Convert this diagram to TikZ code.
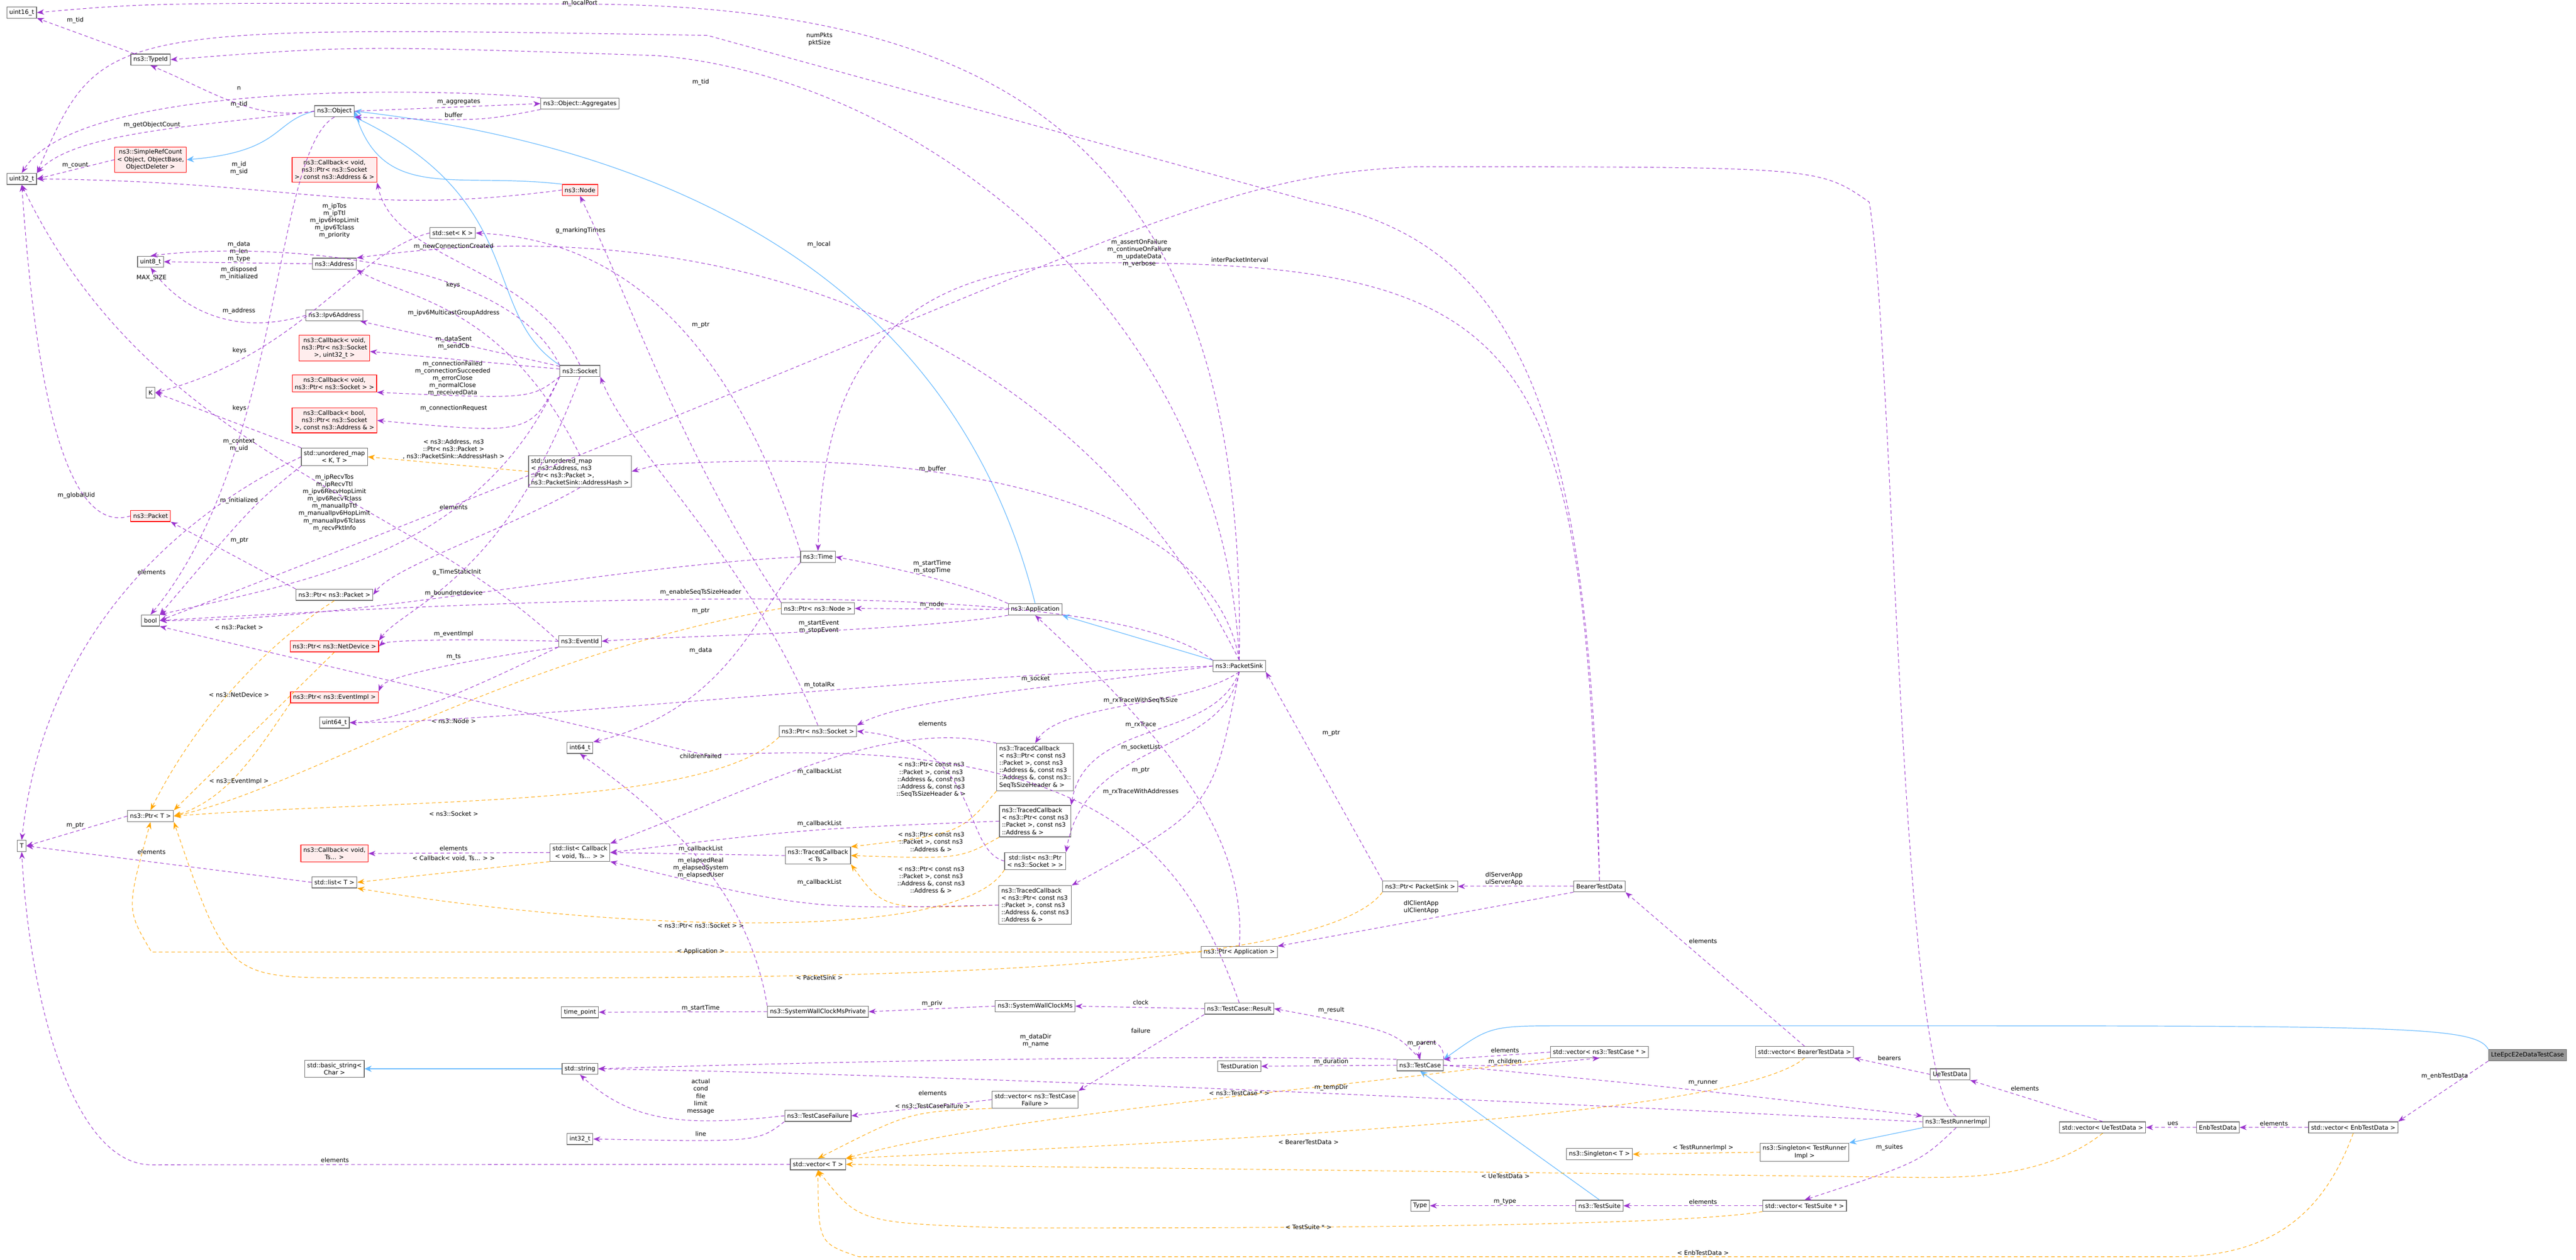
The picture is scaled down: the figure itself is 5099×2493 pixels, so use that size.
\documentclass[tikz,border=0pt]{standalone}
\usepackage{fontspec}
\setmainfont{DejaVu Sans}
\usetikzlibrary{arrows.meta}
\definecolor{pu}{HTML}{9A32CD}
\definecolor{og}{HTML}{FFA500}
\definecolor{bl}{HTML}{63B8FF}
\newcommand{\ft}{\fontsize{3.4}{4.1}\selectfont}
\tikzset{
 box/.style={draw=black!60,line width=0.35pt,fill=white,font=\ft,align=center,inner sep=1.4pt,minimum height=0.22cm},
 rbox/.style={box,draw=red,fill=red!7},
 pe/.style={draw=pu,line width=0.3pt,dash pattern=on 2pt off 1.5pt,-{Stealth[length=4pt,width=3pt]}},
 oe/.style={draw=og,line width=0.3pt,dash pattern=on 2pt off 1.5pt,-{Stealth[length=4pt,width=3pt]}},
 be/.style={draw=bl,line width=0.35pt,-{Stealth[length=4pt,width=3.5pt,fill=bl]}},
 lab/.style={font=\ft,align=center,inner sep=0pt}
}
\begin{document}
\begin{tikzpicture}[x=0.01cm,y=-0.01cm]
\useasboundingbox (0,0) rectangle (5099,2493);
% nodes
\node[box] (u16) at (43,25) {uint16\_t};
\node[box] (tid) at (298,118) {ns3::TypeId};
\node[box] (obj) at (662,220) {ns3::Object};
\node[box] (agg) at (1148,205) {ns3::Object::Aggregates};
\node[box] (u32) at (43,354) {uint32\_t};
\node[rbox] (src) at (298,316) {ns3::SimpleRefCount\\< Object, ObjectBase,\\ ObjectDeleter >};
\node[rbox] (cb1) at (662,336) {ns3::Callback< void,\\ ns3::Ptr< ns3::Socket\\ >, const ns3::Address \& >};
\node[rbox] (node) at (1148,376) {ns3::Node};
\node[box] (setk) at (896,461) {std::set< K >};
\node[box] (u8) at (298,518) {uint8\_t};
\node[box] (addr) at (662,522) {ns3::Address};
\node[box] (ip6) at (662,624) {ns3::Ipv6Address};
\node[rbox] (cb2) at (662,689) {ns3::Callback< void,\\ ns3::Ptr< ns3::Socket\\ >, uint32\_t >};
\node[box] (sock) at (1148,734) {ns3::Socket};
\node[box] (K) at (298,777) {K};
\node[rbox] (cb3) at (662,759) {ns3::Callback< void,\\ ns3::Ptr< ns3::Socket > >};
\node[rbox] (cb4) at (662,832) {ns3::Callback< bool,\\ ns3::Ptr< ns3::Socket\\ >, const ns3::Address \& >};
\node[box] (umkt) at (662,904) {std::unordered\_map\\< K, T >};
\node[box,align=left] (uma) at (1148,933) {std::unordered\_map\\< ns3::Address, ns3\\::Ptr< ns3::Packet >,\\ ns3::PacketSink::AddressHash >};
\node[rbox] (pkt) at (298,1021) {ns3::Packet};
\node[box] (ppkt) at (662,1177) {ns3::Ptr< ns3::Packet >};
\node[box] (bool) at (298,1228) {bool};
\node[rbox] (pnd) at (662,1279) {ns3::Ptr< ns3::NetDevice >};
\node[box] (eid) at (1148,1269) {ns3::EventId};
\node[rbox] (pei) at (662,1380) {ns3::Ptr< ns3::EventImpl >};
\node[box] (u64) at (662,1430) {uint64\_t};
\node[box] (i64) at (1148,1480) {int64\_t};
\node[box] (ptrT) at (298,1615) {ns3::Ptr< T >};
\node[box] (T) at (43,1674) {T};
\node[rbox] (cbts) at (662,1689) {ns3::Callback< void,\\ Ts... >};
\node[box] (lcb) at (1148,1687) {std::list< Callback\\< void, Ts... > >};
\node[box] (listT) at (662,1746) {std::list< T >};
\node[box] (tp) at (1148,2003) {time\_point};
\node[box] (bstr) at (662,2115) {std::basic\_string<\\ Char >};
\node[box] (str) at (1148,2115) {std::string};
\node[box] (i32) at (1148,2254) {int32\_t};
\node[box] (time) at (1619,1102) {ns3::Time};
\node[box] (pnode) at (1619,1204) {ns3::Ptr< ns3::Node >};
\node[box] (app) at (2049,1206) {ns3::Application};
\node[box] (ps) at (2453,1318) {ns3::PacketSink};
\node[box] (psock) at (1619,1447) {ns3::Ptr< ns3::Socket >};
\node[box,align=left] (tc1) at (2049,1518) {ns3::TracedCallback\\< ns3::Ptr< const ns3\\::Packet >, const ns3\\::Address \&, const ns3\\::Address \&, const ns3::\\SeqTsSizeHeader \& >};
\node[box,align=left] (tc2) at (2049,1625) {ns3::TracedCallback\\< ns3::Ptr< const ns3\\::Packet >, const ns3\\::Address \& >};
\node[box] (tcts) at (1619,1693) {ns3::TracedCallback\\< Ts >};
\node[box] (lps) at (2049,1704) {std::list< ns3::Ptr\\< ns3::Socket > >};
\node[box,align=left] (tc3) at (2049,1791) {ns3::TracedCallback\\< ns3::Ptr< const ns3\\::Packet >, const ns3\\::Address \&, const ns3\\::Address \& >};
\node[box] (papp) at (2453,1884) {ns3::Ptr< Application >};
\node[box] (swp) at (1619,2002) {ns3::SystemWallClockMsPrivate};
\node[box] (sw) at (2049,1991) {ns3::SystemWallClockMs};
\node[box] (res) at (2453,1996) {ns3::TestCase::Result};
\node[box] (tdur) at (2453,2110) {TestDuration};
\node[box] (vtcf) at (2049,2176) {std::vector< ns3::TestCase\\Failure >};
\node[box] (tcf) at (1619,2208) {ns3::TestCaseFailure};
\node[box] (vecT) at (1619,2304) {std::vector< T >};
\node[box] (ppsk) at (2811,1754) {ns3::Ptr< PacketSink >};
\node[box] (btd) at (3166,1754) {BearerTestData};
\node[box] (tcase) at (2811,2108) {ns3::TestCase};
\node[box] (vtc) at (3166,2082) {std::vector< ns3::TestCase * >};
\node[box] (vbtd) at (3572,2082) {std::vector< BearerTestData >};
\node[box] (ue) at (3860,2126) {UeTestData};
\node[box] (tri) at (3872,2220) {ns3::TestRunnerImpl};
\node[box] (stri) at (3572,2280) {ns3::Singleton< TestRunner\\Impl >};
\node[box] (sT) at (3166,2284) {ns3::Singleton< T >};
\node[box] (type) at (2811,2386) {Type};
\node[box] (ts) at (3166,2386) {ns3::TestSuite};
\node[box] (vts) at (3572,2386) {std::vector< TestSuite * >};
\node[box] (vue) at (4162,2231) {std::vector< UeTestData >};
\node[box] (enb) at (4390,2231) {EnbTestData};
\node[box] (venb) at (4658,2231) {std::vector< EnbTestData >};
\node[box,fill=black!40] (lte) at (5003,2088) {LteEpcE2eDataTestCase};
% inheritance
\draw[be] (obj.west) .. controls (540,240) and (560,300) .. (src.east);
\draw[be] (node.north west) .. controls (900,340) and (760,400) .. (obj.east);
\draw[be] (sock.north west) .. controls (950,620) and (1050,400) .. (obj.south east);
\draw[be] (app.north) .. controls (1900,600) and (1400,300) .. (obj.east);
\draw[be] (ps.north west) -- (app.south east);
\draw[be] (str) -- (bstr);
\draw[be] (tri.south west) -- (stri.north east);
\draw[be] (ts.north) -- (tcase.south);
\draw[be] (lte.north west) .. controls (4900,2030) and (4750,2030) .. (3700,2030) -- (3100,2030) .. controls (2950,2030) .. (tcase.north east);
% top area
\draw[pe] (tid) -- (u16); \node[lab] at (149,40) {m\_tid};
\draw[pe] (obj.west) .. controls (500,240) and (420,180) .. (tid.south); \node[lab] at (473,206) {m\_tid};
\draw[pe] (obj.east) -- (agg.west); \node[lab] at (908,202) {m\_aggregates};
\draw[pe] (agg.south west) .. controls (950,240) .. (obj.south east); \node[lab] at (898,228) {buffer};
\draw[pe] (agg.north west) .. controls (800,170) and (150,170) .. (u32.north); \node[lab] at (473,175) {n};
\draw[pe] (obj.west) .. controls (400,250) and (150,260) .. (u32.north east); \node[lab] at (301,247) {m\_getObjectCount};
\draw[pe] (src.west) -- (u32.east); \node[lab] at (149,327) {m\_count};
\draw[pe] (node.west) .. controls (700,430) and (600,360) .. (u32.east); \node[lab] at (473,333) {m\_id\\m\_sid};
\draw[pe] (addr.west) -- (u8.east); \node[lab] at (473,498) {m\_data\\m\_len\\m\_type};
\draw[pe] (sock.north west) .. controls (1000,500) and (500,480) .. (u8.north); \node[lab] at (662,437) {m\_ipTos\\m\_ipTtl\\m\_ipv6HopLimit\\m\_ipv6Tclass\\m\_priority};
\draw[pe] (ip6.west) .. controls (450,670) and (350,600) .. (u8.south); \node[lab] at (473,615) {m\_address}; \node[lab] at (300,550) {MAX\_SIZE};
\draw[pe] (obj.south) .. controls (540,300) and (560,900) .. (bool.north); \node[lab] at (473,541) {m\_disposed\\m\_initialized};
\draw[pe] (ps.north) .. controls (2150,700) and (1500,400) .. (addr.north east); \node[lab] at (1621,484) {m\_local};
\draw[pe] (uma.north) .. controls (1000,600) and (800,590) .. (addr.south east); \node[lab] at (897,564) {keys};
\draw[pe] (sock) -- (ip6); \node[lab] at (898,619) {m\_ipv6MulticastGroupAddress};
\draw[pe] (sock) -- (cb2); \node[lab] at (898,679) {m\_dataSent\\m\_sendCb};
\draw[pe] (sock.south west) .. controls (1050,790) .. (cb3.south east); \node[lab] at (896,749) {m\_connectionFailed\\m\_connectionSucceeded\\m\_errorClose\\m\_normalClose\\m\_receivedData};
\draw[pe] (sock.south west) .. controls (1050,860) .. (cb4.east); \node[lab] at (898,808) {m\_connectionRequest};
\draw[pe] (sock.north) .. controls (1050,520) and (780,520) .. (cb1.south east); \node[lab] at (898,488) {m\_newConnectionCreated};
\draw[pe] (time.north west) .. controls (1400,520) and (1100,470) .. (setk.east); \node[lab] at (1149,456) {g\_markingTimes};
\draw[pe] (setk.west) .. controls (700,500) and (600,700) .. (K.east); \node[lab] at (474,694) {keys};
\draw[pe] (umkt.north west) -- (K.east); \node[lab] at (474,808) {keys};
\draw[oe] (uma.west) -- (umkt.east); \node[lab] at (898,889) {< ns3::Address, ns3\\::Ptr< ns3::Packet >\\, ns3::PacketSink::AddressHash >};
\draw[pe] (uma.south) .. controls (1000,1050) and (780,1120) .. (ppkt.east); \node[lab] at (898,1004) {elements};
\draw[pe] (umkt.west) .. controls (500,950) and (100,1150) .. (T.north); \node[lab] at (300,1132) {elements};
\draw[pe] (pkt.west) .. controls (100,1070) and (60,600) .. (u32.south); \node[lab] at (151,980) {m\_globalUid};
\draw[pe] (ppkt.north west) -- (pkt.south east); \node[lab] at (474,1070) {m\_ptr};
\draw[pe] (eid.west) .. controls (800,980) and (300,900) .. (u32.south); \node[lab] at (473,881) {m\_context\\m\_uid};
\draw[pe] (sock.south west) .. controls (950,1100) and (600,1150) .. (bool.north east); \node[lab] at (662,995) {m\_ipRecvTos\\m\_ipRecvTtl\\m\_ipv6RecvHopLimit\\m\_ipv6RecvTclass\\m\_manualIpTtl\\m\_manualIpv6HopLimit\\m\_manualIpv6Tclass\\m\_recvPktInfo};
\draw[pe] (umkt.south west) .. controls (500,1000) .. (bool.north east); \node[lab] at (473,991) {m\_initialized};
\draw[pe] (time.west) .. controls (1200,1120) and (700,1230) .. (bool.east); \node[lab] at (904,1132) {g\_TimeStaticInit};
\draw[pe] (sock.south) .. controls (1000,1150) and (800,1200) .. (pnd.north east); \node[lab] at (898,1174) {m\_boundnetdevice};
\draw[oe] (ppkt.south) .. controls (550,1260) and (400,1400) .. (ptrT.north); \node[lab] at (473,1241) {< ns3::Packet >};
% middle left
\draw[oe] (pnd.south) -- (ptrT.north east); \node[lab] at (473,1375) {< ns3::NetDevice >};
\draw[pe] (eid.west) .. controls (850,1262) and (760,1270) .. (pnd.east); \node[lab] at (898,1255) {m\_eventImpl};
\draw[pe] (eid.south west) .. controls (900,1310) and (760,1340) .. (pei.north east); \node[lab] at (898,1300) {m\_ts};
\draw[pe] (eid.south west) .. controls (1000,1330) and (800,1430) .. (u64.east);
\draw[oe] (pei.south west) .. controls (500,1500) and (450,1580) .. (ptrT.east); \node[lab] at (473,1546) {< ns3::EventImpl >};
\draw[oe] (pnode.west) .. controls (1000,1300) and (600,1560) .. (ptrT.east); \node[lab] at (898,1427) {< ns3::Node >};
\draw[pe] (pnode.north west) .. controls (1350,900) and (1250,600) .. (node.south); \node[lab] at (1387,643) {m\_ptr};
\draw[oe] (psock.south west) .. controls (1400,1600) and (800,1580) .. (ptrT.east); \node[lab] at (898,1610) {< ns3::Socket >};
\draw[pe] (psock.north) .. controls (1480,1100) and (1250,900) .. (sock.south east); \node[lab] at (1387,1209) {m\_ptr};
\draw[pe] (ptrT.west) -- (T.east); \node[lab] at (149,1633) {m\_ptr};
\draw[pe] (listT.west) -- (T.east); \node[lab] at (300,1686) {elements};
\draw[pe] (vecT.west) -- (300,2305) .. controls (150,2305) and (60,2000) .. (T.south); \node[lab] at (663,2296) {elements};
\draw[pe] (lcb.west) -- (cbts.east); \node[lab] at (898,1679) {elements};
\draw[oe] (lcb.south west) -- (listT.east); \node[lab] at (898,1699) {< Callback< void, Ts... > >};
\draw[oe] (lps.south west) .. controls (1900,1870) and (1200,1840) .. (listT.south east); \node[lab] at (1387,1832) {< ns3::Ptr< ns3::Socket > >};
\draw[pe] (lps.west) .. controls (1900,1680) and (1950,1470) .. (psock.east); \node[lab] at (1846,1432) {elements};
% traced callbacks
\draw[oe] (tc1.south west) .. controls (1900,1650) .. (tcts.north east); \node[lab] at (1843,1543) {< ns3::Ptr< const ns3\\::Packet >, const ns3\\::Address \&, const ns3\\::Address \&, const ns3\\::SeqTsSizeHeader \& >};
\draw[oe] (tc2.south west) .. controls (1900,1700) .. (tcts.east); \node[lab] at (1843,1666) {< ns3::Ptr< const ns3\\::Packet >, const ns3\\::Address \& >};
\draw[oe] (tc3.west) .. controls (1750,1800) .. (tcts.south east); \node[lab] at (1843,1741) {< ns3::Ptr< const ns3\\::Packet >, const ns3\\::Address \&, const ns3\\::Address \& >};
\draw[pe] (tcts.west) -- (lcb.east); \node[lab] at (1387,1680) {m\_callbackList};
\draw[pe] (tc1.north west) .. controls (1750,1420) and (1500,1560) .. (lcb.north east); \node[lab] at (1622,1527) {m\_callbackList};
\draw[pe] (tc2.west) .. controls (1600,1640) .. (lcb.east); \node[lab] at (1622,1630) {m\_callbackList};
\draw[pe] (tc3.west) .. controls (1600,1800) .. (lcb.south east); \node[lab] at (1622,1746) {m\_callbackList};
% packet sink
\draw[pe] (ps.west) .. controls (2100,1360) and (1800,1380) .. (psock.north east); \node[lab] at (2050,1344) {m\_socket};
\draw[pe] (ps.south) .. controls (2350,1400) and (2100,1390) .. (tc1.north); \node[lab] at (2258,1386) {m\_rxTraceWithSeqTsSize};
\draw[pe] (ps.south) .. controls (2400,1470) and (2150,1420) .. (tc2.north east); \node[lab] at (2258,1434) {m\_rxTrace};
\draw[pe] (ps.south) .. controls (2420,1500) and (2150,1460) .. (lps.north east); \node[lab] at (2258,1479) {m\_socketList};
\draw[pe] (ps.south) .. controls (2400,1600) .. (tc3.north east); \node[lab] at (2258,1567) {m\_rxTraceWithAddresses};
\draw[pe] (ps.west) .. controls (1800,1340) and (1000,1430) .. (u64.east); \node[lab] at (1622,1356) {m\_totalRx};
\draw[pe] (ps.north) .. controls (2400,1000) and (1900,880) .. (1300,920) -- (uma.east); \node[lab] at (1846,928) {m\_buffer};
\draw[pe] (ps.north west) .. controls (2200,1150) and (1300,1170) .. (bool.east); \node[lab] at (1387,1172) {m\_enableSeqTsSizeHeader};
\draw[pe] (ps.north) .. controls (2470,300) and (2000,10) .. (1148,8) .. controls (300,5) .. (u16.east); \node[lab] at (1148,0) [anchor=north] {m\_localPort};
\draw[pe] (ps.north) .. controls (2420,600) and (1800,150) .. (1300,110) .. controls (700,90) .. (tid.east); \node[lab] at (1387,163) {m\_tid};
\draw[pe] (app.north west) .. controls (1900,1150) and (1750,1120) .. (time.east); \node[lab] at (1845,1122) {m\_startTime\\m\_stopTime};
\draw[pe] (app.west) -- (pnode.east); \node[lab] at (1845,1197) {m\_node};
\draw[pe] (app.south west) .. controls (1800,1250) and (1300,1260) .. (eid.east); \node[lab] at (1621,1241) {m\_startEvent\\m\_stopEvent};
\draw[pe] (time.south west) .. controls (1500,1200) and (1450,1400) .. (i64.north east); \node[lab] at (1387,1287) {m\_data};
% apps
\draw[pe] (papp.north) .. controls (2470,1650) and (2300,1450) .. (app.south); \node[lab] at (2258,1524) {m\_ptr};
\draw[oe] (papp.west) -- (300,1884) .. controls (250,1800) .. (ptrT.south); \node[lab] at (1387,1883) {< Application >};
\draw[pe] (ppsk.north west) -- (ps.south east); \node[lab] at (2635,1451) {m\_ptr};
\draw[oe] (ppsk.south west) .. controls (2600,1950) and (1400,1935) .. (700,1935) .. controls (450,1935) .. (ptrT.south east); \node[lab] at (1622,1935) {< PacketSink >};
\draw[pe] (btd.west) -- (ppsk.east); \node[lab] at (2977,1739) {dlServerApp\\ulServerApp};
\draw[pe] (btd.south west) -- (papp.north east); \node[lab] at (2813,1795) {dlClientApp\\ulClientApp};
\draw[pe] (btd.north) .. controls (3130,700) and (3050,520) .. (2200,520) .. controls (1700,520) and (1630,800) .. (time.north); \node[lab] at (2454,514) {interPacketInterval};
\draw[pe] (btd.north) .. controls (3150,800) and (3000,480) .. (2600,400) -- (1400,70) .. controls (200,50) .. (u32.north east); \node[lab] at (1622,78) {numPkts\\pktSize};
% wallclock/test case
\draw[pe] (swp.west) -- (tp.east); \node[lab] at (1387,1995) {m\_startTime};
\draw[pe] (swp.north west) .. controls (1480,1750) and (1300,1600) .. (i64.south); \node[lab] at (1387,1718) {m\_elapsedReal\\m\_elapsedSystem\\m\_elapsedUser};
\draw[pe] (sw.west) -- (swp.east); \node[lab] at (1845,1986) {m\_priv};
\draw[pe] (res.west) -- (sw.east); \node[lab] at (2258,1984) {clock};
\draw[pe] (res.south west) -- (vtcf.north east); \node[lab] at (2258,2040) {failure};
\draw[pe] (res.north) .. controls (2350,1700) and (2200,1450) .. (1400,1495) -- (bool.south east); \node[lab] at (1387,1496) {childrenFailed};
\draw[pe] (vtcf.west) -- (tcf.east); \node[lab] at (1846,2163) {elements};
\draw[oe] (vtcf.south west) .. controls (1800,2200) .. (vecT.north); \node[lab] at (1846,2189) {< ns3::TestCaseFailure >};
\draw[pe] (tcf.west) .. controls (1350,2230) and (1250,2220) .. (str.south); \node[lab] at (1387,2170) {actual\\cond\\file\\limit\\message};
\draw[pe] (tcf.south west) .. controls (1500,2260) .. (i32.east); \node[lab] at (1387,2244) {line};
\draw[pe] (tcase.north) .. controls (2760,2040) .. (res.east); \node[lab] at (2635,1999) {m\_result};
\draw[pe] (tcase.north east) .. controls (2860,2050) and (2800,2050) .. (tcase.north); \node[lab] at (2814,2065) {m\_parent};
\draw[pe] (tcase.west) -- (tdur.east); \node[lab] at (2635,2101) {m\_duration};
\draw[pe] (tcase.north west) .. controls (2600,2090) and (2000,2090) .. (str.east); \node[lab] at (2050,2059) {m\_dataDir\\m\_name};
\draw[pe] (tcase.east) .. controls (3000,2110) .. (vtc.south); \node[lab] at (2979,2101) {m\_children};
\draw[pe] (vtc.west) -- (tcase.north east); \node[lab] at (2979,2078) {elements};
\draw[oe] (vtc.south west) .. controls (2800,2140) and (2000,2200) .. (vecT.north east); \node[lab] at (2453,2163) {< ns3::TestCase * >};
\draw[pe] (tcase.east) .. controls (3300,2150) .. (tri.north west); \node[lab] at (3371,2143) {m\_runner};
\draw[pe] (tri.west) .. controls (3000,2180) and (2000,2130) .. (str.east); \node[lab] at (2635,2152) {m\_tempDir};
\draw[pe] (tri.north) .. controls (3760,2150) and (3750,700) .. (3700,400) .. controls (3600,330) .. (2800,330) .. controls (2350,350) and (2200,500) .. (bool.east); \node[lab] at (2255,501) {m\_assertOnFailure\\m\_continueOnFailure\\m\_updateData\\m\_verbose};
\draw[pe] (tri.south) .. controls (3800,2300) .. (vts.north); \node[lab] at (3740,2270) {m\_suites};
\draw[oe] (stri.west) -- (sT.east); \node[lab] at (3371,2271) {< TestRunnerImpl >};
\draw[pe] (ts.west) -- (type.east); \node[lab] at (2979,2378) {m\_type};
\draw[pe] (vts.west) -- (ts.east); \node[lab] at (3371,2378) {elements};
\draw[oe] (vts.south west) .. controls (3300,2430) and (2400,2430) .. (2000,2430) .. controls (1700,2420) .. (vecT.south); \node[lab] at (2590,2428) {< TestSuite * >};
\draw[pe] (vbtd.north) -- (btd.south east); \node[lab] at (3371,1862) {elements};
\draw[oe] (vbtd.south) .. controls (3450,2200) and (2600,2250) .. (vecT.north east); \node[lab] at (2590,2260) {< BearerTestData >};
\draw[pe] (ue.west) -- (vbtd.south east); \node[lab] at (3740,2094) {bearers};
\draw[pe] (vue.north) -- (ue.south east); \node[lab] at (4008,2154) {elements};
\draw[oe] (vue.south) .. controls (4050,2330) and (3900,2330) .. (3800,2330) -- (vecT.east); \node[lab] at (2980,2327) {< UeTestData >};
\draw[pe] (enb.west) -- (vue.east); \node[lab] at (4301,2223) {ues};
\draw[pe] (venb.west) -- (enb.east); \node[lab] at (4501,2223) {elements};
\draw[oe] (venb.south) .. controls (4600,2400) and (4500,2487) .. (4300,2487) -- (1700,2487) .. controls (1620,2460) .. (vecT.south); \node[lab] at (3371,2479) {< EnbTestData >};
\draw[pe] (lte.south west) -- (venb.north east); \node[lab] at (4839,2130) {m\_enbTestData};
\end{tikzpicture}
\end{document}
